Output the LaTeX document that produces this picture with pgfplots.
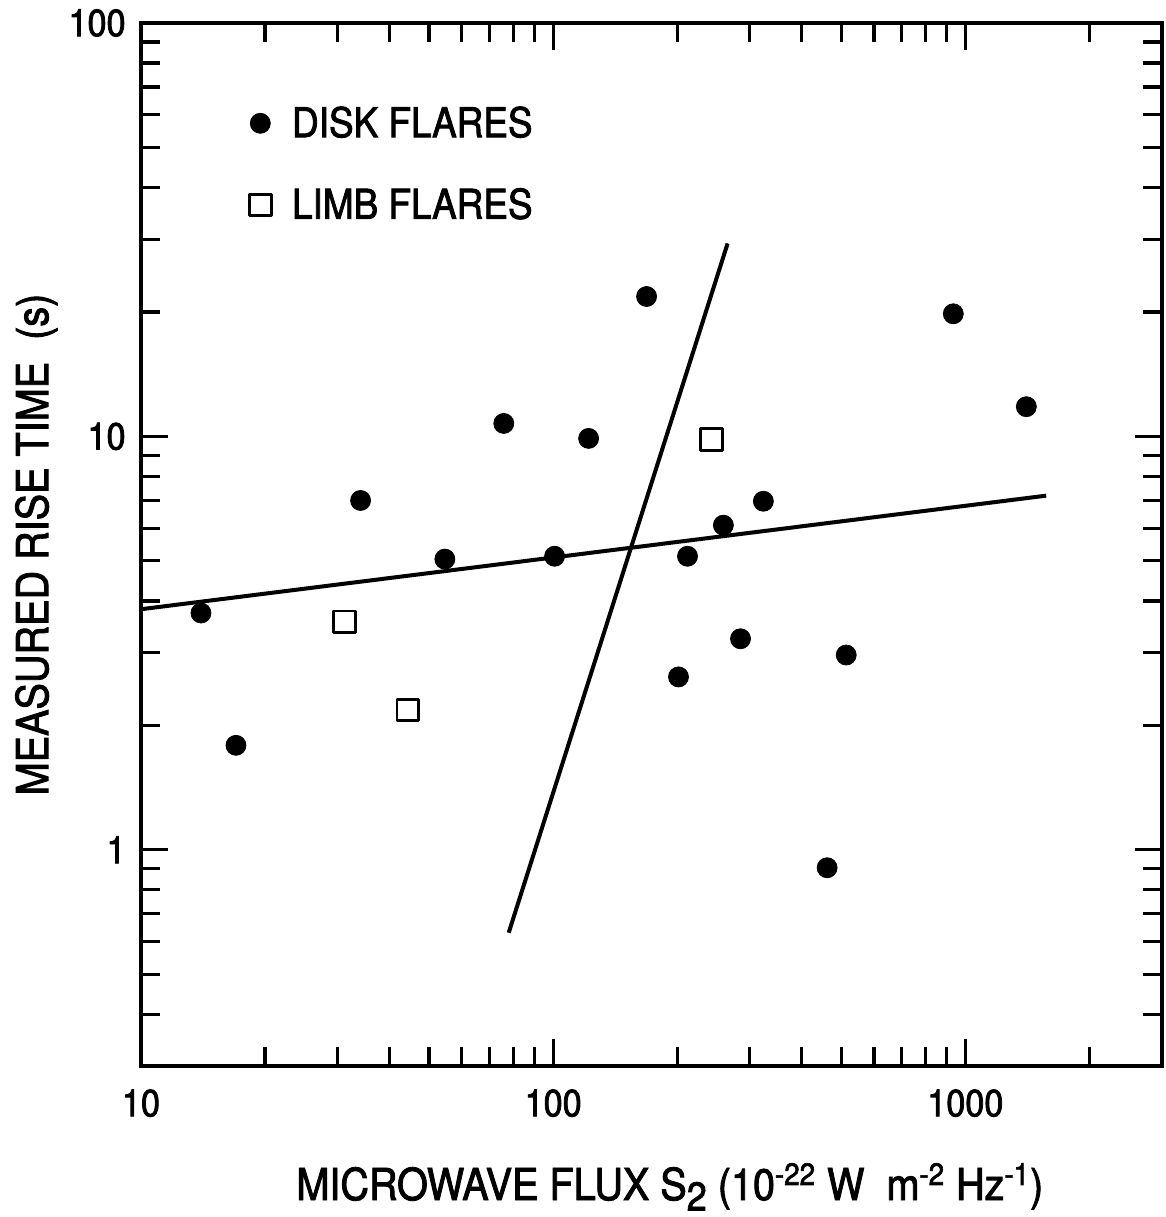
\documentclass[border=0pt]{standalone}
\usepackage{fontspec}
\setmainfont{TeX Gyre Heros}[FakeStretch=0.9, FakeBold=2]
\usepackage{pgfplots}
\pgfplotsset{compat=1.18}
\newcommand{\tl}[1]{\textnormal{\fontsize{19}{19}\selectfont #1}}
\begin{document}
\begin{tikzpicture}
\begin{axis}[
  at={(0,0)}, anchor=south west,
  scale only axis, width=510.5pt, height=521.5pt,
  xmode=log, ymode=log,
  xmin=10, xmax=3000, ymin=0.3, ymax=100,
  axis line style={line width=2pt},
  tick style={black, line width=1.6pt},
  major tick length=13.5pt, minor tick length=9.5pt,
  tick align=inside,
  xtick={10,100,1000}, xticklabels={\tl{10},\tl{100},\tl{1000}},
  ytick={1,10,100}, yticklabels={\tl{1},\tl{10},\tl{100}},
  minor xtick={20,30,40,50,60,70,80,90,200,300,400,500,600,700,800,900,2000},
  minor ytick={0.4,0.5,0.6,0.7,0.8,0.9,2,3,4,5,6,7,8,9,20,30,40,50,60,70,80,90},
  tick label style={font=\fontsize{19}{19}\selectfont, inner sep=0pt},
  xticklabel style={anchor=north, yshift=-11.5pt},
  yticklabel style={anchor=east, xshift=-7.5pt},
  xlabel={MICROWAVE FLUX S\raisebox{-0.45ex}{\fontsize{20}{20}\selectfont 2} (10\textsuperscript{-22} W\ \ m\textsuperscript{-2} Hz\textsuperscript{-1})},
  ylabel={MEASURED RISE TIME\ \ (s)},
  label style={font=\fontsize{22}{22}\selectfont},
  xlabel style={at={(axis description cs:0.518,-0.1285)}, anchor=base},
  ylabel style={at={(axis description cs:-0.091,0.5)}, anchor=base, rotate=0},
  legend style={draw=none, fill=none, at={(axis description cs:0.1,0.928)}, anchor=north west,
    font=\fontsize{20.5}{24}\selectfont, row sep=20pt, column sep=8.5pt},
  legend cell align=left,
  legend image code/.code={\draw[#1] plot coordinates {(0pt,0pt)};},
]
\addplot[only marks, mark=*, mark size=5pt, black, mark options={fill=black}] coordinates {
(13.98,3.74) (17.0,1.79) (34.1,7.0) (54.6,5.05) (75.9,10.75) (100.8,5.13)
(121.9,9.89) (168.5,21.8) (201.4,2.62) (211.8,5.13) (258.8,6.10) (284.8,3.24)
(323.6,6.97) (462,0.905) (514,2.96) (935,19.8) (1406,11.8)
};
\addlegendentry{DISK FLARES}
\addplot[only marks, mark=square, mark size=5.4pt, black, mark options={line width=1.4pt, line join=round}] coordinates {
(31.2,3.56) (44.4,2.18) (242,9.84)
};
\addlegendentry{LIMB FLARES}
\addplot[black, line width=2pt, forget plot] coordinates {(10,3.82) (1571,7.19)};
\addplot[black, line width=2pt, forget plot] coordinates {(78.0,0.630) (265,29.3)};
\end{axis}
\pgfresetboundingbox
\path[use as bounding box] (-70.5pt,-75.5pt) rectangle (512.5pt,533pt);
\end{tikzpicture}
\end{document}
